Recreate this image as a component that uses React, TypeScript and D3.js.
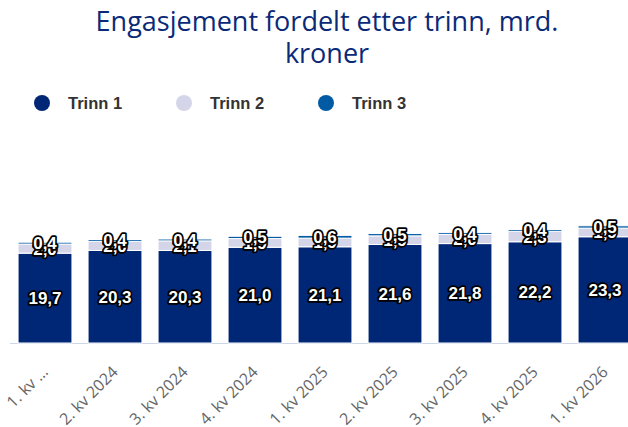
import React from "react";
import * as d3 from "d3";

const categories = ["1. kv 2024", "2. kv 2024", "3. kv 2024", "4. kv 2024", "1. kv 2025", "2. kv 2025", "3. kv 2025", "4. kv 2025", "1. kv 2026"];
const tickLabels = ["1. kv …", "2. kv 2024", "3. kv 2024", "4. kv 2024", "1. kv 2025", "2. kv 2025", "3. kv 2025", "4. kv 2025", "1. kv 2026"];
const trinn1 = [19.7, 20.3, 20.3, 21.0, 21.1, 21.6, 21.8, 22.2, 23.3];
const trinn2 = [2.0, 2.0, 2.1, 1.9, 1.9, 1.9, 2.0, 2.3, 1.9];
const trinn3 = [0.4, 0.4, 0.4, 0.5, 0.6, 0.5, 0.4, 0.4, 0.5];
const seriesNames = ["Trinn 1", "Trinn 2", "Trinn 3"];
const colors = ["#002776", "#d5d5ea", "#005ba4"];

const W = 628;
const H = 427;
const baseY = 343;

const fmt = (v: number) => v.toFixed(1).replace(".", ",");

export default function App() {
  const rows = categories.map((c, i) => ({ cat: c, t1: trinn1[i], t2: trinn2[i], t3: trinn3[i] }));
  const stack = d3.stack<any>().keys(["t1", "t2", "t3"]);
  const layers = stack(rows);

  const x = d3.scaleBand().domain(categories).range([10, 640]).paddingInner(0.23).paddingOuter(0.115);
  const y = d3.scaleLinear().domain([0, 50]).range([baseY, 115]);

  const labelStyle: React.CSSProperties = {
    fontFamily: "Liberation Sans, Arial, sans-serif",
    fontWeight: "bold",
    fontSize: 17,
    fill: "#fff",
    stroke: "#000",
    strokeWidth: 3.5,
    strokeLinejoin: "round",
    paintOrder: "stroke",
  };

  const titleStyle: React.CSSProperties = { fontFamily: "Open Sans, sans-serif", fontSize: 27 };

  return (
    <svg width={W} height={H} style={{ position: "absolute", left: 0, top: 0 }}>
      <rect width={W} height={H} fill="#fff" />
      <text x={327} y={31} textAnchor="middle" fill="#0a2a78" style={titleStyle}>
        Engasjement fordelt etter trinn, mrd.
      </text>
      <text x={327} y={63} textAnchor="middle" fill="#0a2a78" style={titleStyle}>
        kroner
      </text>

      {seriesNames.map((n, i) => (
        <g key={n} transform={`translate(${42 + i * 142},103)`}>
          <circle r={8} fill={colors[i]} />
          <text x={26} y={5.5} fill="#333" style={{ fontFamily: "Liberation Sans, Arial, sans-serif", fontWeight: "bold", fontSize: 16.5 }}>
            {n}
          </text>
        </g>
      ))}

      <line x1={10} x2={W} y1={baseY + 0.5} y2={baseY + 0.5} stroke="#ccd6eb" strokeWidth={1} />

      {layers.map((layer, li) => (
        <g key={li}>
          {layer.map((d, i) => (
            <rect
              key={i}
              x={x(categories[i])!}
              y={y(d[1])}
              width={x.bandwidth()}
              height={y(d[0]) - y(d[1])}
              fill={colors[li]}
              stroke="#fff"
              strokeWidth={1}
            />
          ))}
        </g>
      ))}

      {layers.map((layer, li) => (
        <g key={"l" + li}>
          {layer.map((d, i) => (
            <text
              key={i}
              x={x(categories[i])! + x.bandwidth() / 2}
              y={(y(d[0]) + y(d[1])) / 2 + 6}
              textAnchor="middle"
              style={labelStyle}
            >
              {fmt(d[1] - d[0])}
            </text>
          ))}
        </g>
      ))}

      {tickLabels.map((t, i) => {
        const cx = x(categories[i])! + x.bandwidth() / 2;
        return (
          <text
            key={t + i}
            transform={`translate(${cx + 4},${373}) rotate(-45)`}
            textAnchor="end"
            fill="#666"
            style={{ fontFamily: "Open Sans, sans-serif", fontSize: 16 }}
          >
            {t}
          </text>
        );
      })}
    </svg>
  );
}
